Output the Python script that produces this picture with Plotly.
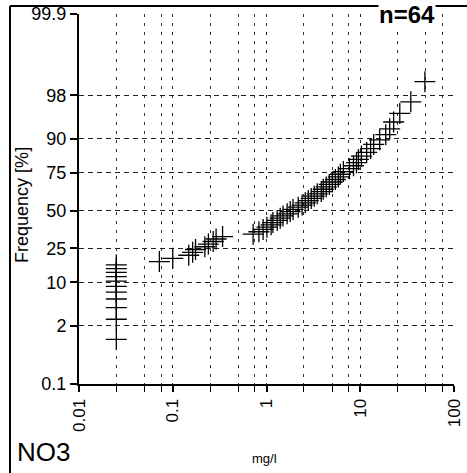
import plotly.graph_objects as go
from statistics import NormalDist

# ---- data ----
conc_mg_l = [0.025, 0.025, 0.025, 0.025, 0.025, 0.025, 0.025, 0.025, 0.025, 0.025, 0.025,
             0.072, 0.10, 0.148, 0.163, 0.175, 0.22, 0.24, 0.27, 0.29, 0.34,
             0.72, 0.83, 0.92, 1.01, 1.12, 1.17, 1.30, 1.40, 1.50, 1.66,
             1.79, 1.92, 2.18, 2.40, 2.59, 2.79, 3.00, 3.23, 3.48, 3.84,
             4.03, 4.34, 4.68, 5.04, 5.43, 5.84, 6.14, 6.61, 7.67, 8.47,
             9.12, 9.57, 10.3, 11.7, 12.9, 13.9, 16.1, 18.7, 20.6, 22.7,
             26.4, 34.6, 48.9]
freq_tick_labels = ["0.1", "2", "10", "25", "50", "75", "90", "98", "99.9"]
freq_tick_values = [0.1, 2, 10, 25, 50, 75, 90, 98]
x_major_ticks = [0.01, 0.1, 1, 10, 100]
x_tick_labels = ["0.01", "0.1", "1", "10", "100"]
x_minor_mult = [2.5, 5, 7.5]
sample_label = "n=64"
parameter_label = "NO3"
unit_label = "mg/l"
y_title = "Frequency [%]"

nd = NormalDist()
n = len(conc_mg_l)
xs = sorted(conc_mg_l)
# Benard plotting positions
probs = [(i - 0.3) / (n + 0.4) for i in range(1, n + 1)]
zs = [nd.inv_cdf(p) for p in probs]

y_bottom = nd.inv_cdf(0.001)
y_top = 3.5
ytickvals = [nd.inv_cdf(v / 100) for v in freq_tick_values] + [y_top]

minor_vals = [d * m for d in [0.01, 0.1, 1, 10] for m in x_minor_mult]

FONT = "Liberation Sans, Arial, sans-serif"

fig = go.Figure()
fig.add_trace(go.Scatter(
    x=xs, y=zs, mode="markers",
    marker=dict(symbol="cross-thin", size=15, color="black",
                line=dict(color="black", width=1.3)),
    hoverinfo="x+y", showlegend=False))

fig.update_layout(
    width=467, height=473,
    margin=dict(l=79, r=13, t=14, b=89),
    paper_bgcolor="white", plot_bgcolor="white",
    font=dict(family=FONT, color="black", size=17),
    xaxis=dict(
        type="log", range=[-2, 2], automargin=False,
        tickvals=x_major_ticks, ticktext=x_tick_labels,
        tickangle=-90, ticks="outside", ticklen=6, tickwidth=1.5, tickcolor="black",
        showline=True, linecolor="black", linewidth=2,
        showgrid=True, gridcolor="#222", gridwidth=1, griddash="3px,6px",
        minor=dict(tickvals=minor_vals, ticks="outside", ticklen=6, tickwidth=1.2,
                   tickcolor="black", showgrid=True, gridcolor="#333",
                   gridwidth=1, griddash="3px,6px"),
        tickfont=dict(size=17, family=FONT),
        zeroline=False,
    ),
    yaxis=dict(
        range=[y_bottom, y_top], automargin=False,
        tickvals=ytickvals, ticktext=freq_tick_labels,
        ticks="outside", ticklen=7, tickwidth=1.5, tickcolor="black",
        showline=True, linecolor="black", linewidth=2,
        showgrid=True, gridcolor="#222", gridwidth=1, griddash="5px,4px",
        tickfont=dict(size=18, family=FONT),
        zeroline=False,
    ),
    shapes=[
        dict(type="line", xref="paper", yref="paper", x0=-0.184, x1=-0.184,
             y0=1.0216, y1=-0.2405, line=dict(color="black", width=2)),
        dict(type="line", xref="paper", yref="paper", x0=-0.184, x1=1.035,
             y0=1.0216, y1=1.0216, line=dict(color="black", width=2)),
    ],
    annotations=[
        dict(text=y_title, xref="paper", yref="paper", textangle=-90,
             x=-0.152, y=0.484, xanchor="center", yanchor="middle", showarrow=False,
             font=dict(size=18, family=FONT)),
        dict(text="<b>" + sample_label + "</b>", xref="paper", yref="paper",
             x=0.875, y=1.0, xanchor="center", yanchor="middle", showarrow=False,
             font=dict(size=24, family=FONT), bgcolor="white", borderpad=0),
        dict(text=parameter_label, xref="paper", yref="paper",
             x=-0.17, y=-0.185, xanchor="left", yanchor="middle", showarrow=False,
             font=dict(size=26, family=FONT)),
        dict(text=unit_label, xref="paper", yref="paper",
             x=0.495, y=-0.2, xanchor="center", yanchor="middle", showarrow=False,
             font=dict(size=13, family=FONT)),
    ],
)

fig.write_html("out.html", config={"displayModeBar": False},
               post_script="document.body.style.margin='0px';document.body.style.overflow='hidden';")
